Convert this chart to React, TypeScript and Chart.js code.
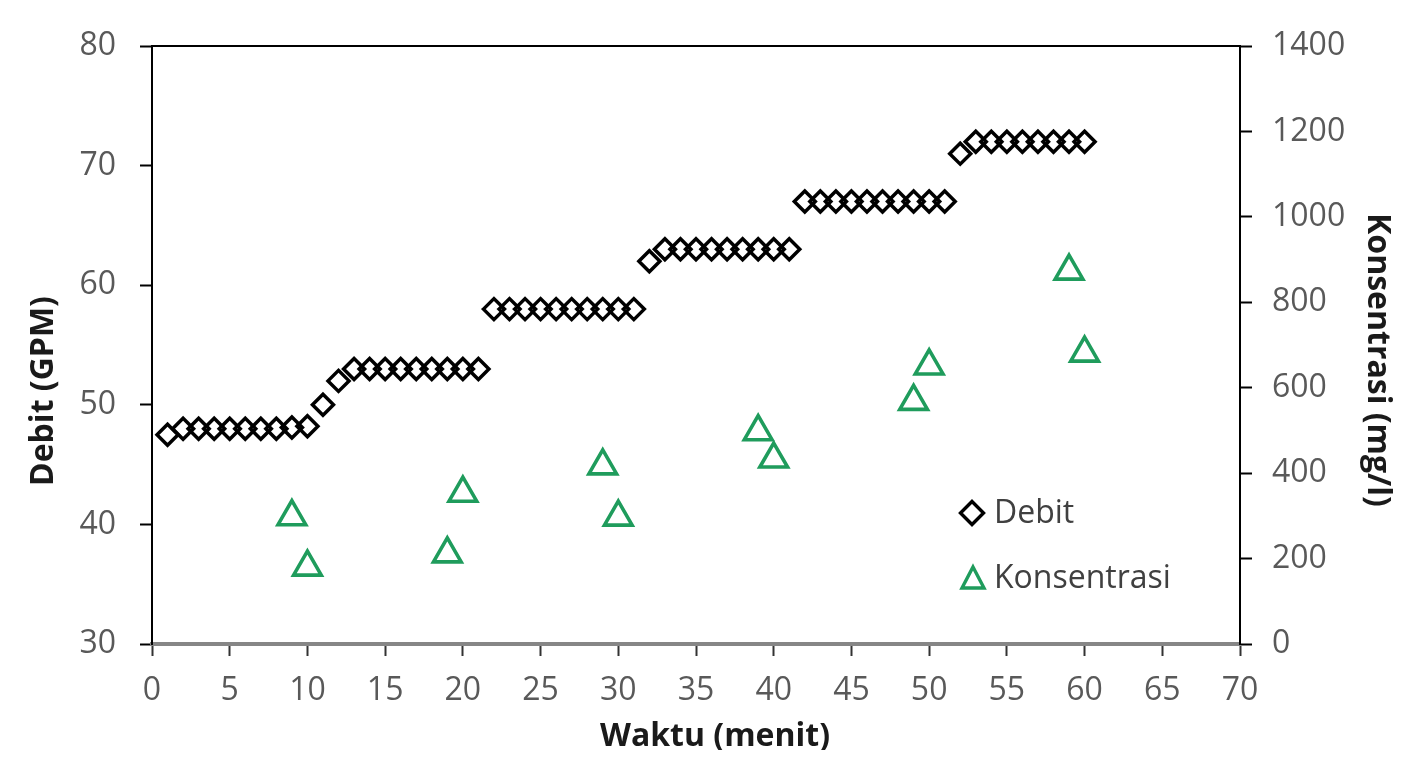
import React, { useEffect, useRef } from 'react';
import { Chart, registerables } from 'chart.js';

Chart.register(...registerables);

// ---- data ----
const minutes = [
  1, 2, 3, 4, 5, 6, 7, 8, 9, 10,
  11, 12, 13, 14, 15, 16, 17, 18, 19, 20,
  21, 22, 23, 24, 25, 26, 27, 28, 29, 30,
  31, 32, 33, 34, 35, 36, 37, 38, 39, 40,
  41, 42, 43, 44, 45, 46, 47, 48, 49, 50,
  51, 52, 53, 54, 55, 56, 57, 58, 59, 60,
];
const debit = [
  47.5, 48, 48, 48, 48, 48, 48, 48, 48.1, 48.2,
  50, 52, 53, 53, 53, 53, 53, 53, 53, 53,
  53, 58, 58, 58, 58, 58, 58, 58, 58, 58,
  58, 62, 63, 63, 63, 63, 63, 63, 63, 63,
  63, 67, 67, 67, 67, 67, 67, 67, 67, 67,
  67, 71, 72, 72, 72, 72, 72, 72, 72, 72,
];
const konsMinutes = [9, 10, 19, 20, 29, 30, 39, 40, 49, 50, 59, 60];
const konsentrasi = [298, 180, 211, 353, 417, 297, 497, 433, 568, 651, 873, 681];

const xAxis = { min: 0, max: 70, step: 5 };
const yLeftAxis = { min: 30, max: 80, step: 10 };
const yRightAxis = { min: 0, max: 1400, step: 200 };

const seriesNames = ['Debit', 'Konsentrasi'];
const axisTitles = { x: 'Waktu (menit)', y: 'Debit (GPM)', y1: 'Konsentrasi (mg/l)' };

const FONT = "'Open Sans', sans-serif";
const GREEN = '#1f9c5c';
const TICK_COLOR = '#595959';
const TITLE_COLOR = '#1a1a1a';

const overlayPlugin = {
  id: 'overlay',
  afterDraw(chart: any) {
    const { ctx, chartArea } = chart;
    ctx.save();
    // top frame line
    ctx.strokeStyle = '#000';
    ctx.lineWidth = 2;
    ctx.beginPath();
    ctx.moveTo(chartArea.left, chartArea.top);
    ctx.lineTo(chartArea.right, chartArea.top);
    ctx.stroke();

    // axis titles
    ctx.fillStyle = TITLE_COLOR;
    ctx.font = `bold 32px ${FONT}`;
    ctx.textAlign = 'center';
    ctx.textBaseline = 'middle';
    ctx.fillText(axisTitles.x, 707, 729);

    ctx.save();
    ctx.translate(36, 383);
    ctx.rotate(-Math.PI / 2);
    ctx.fillText(axisTitles.y, 0, 0);
    ctx.restore();

    ctx.save();
    ctx.translate(1369, 352);
    ctx.rotate(Math.PI / 2);
    ctx.fillText(axisTitles.y1, 0, 0);
    ctx.restore();

    // legend
    const lx = 964;
    const ly1 = 505;
    const ly2 = 570;
    ctx.lineWidth = 3.4;
    ctx.strokeStyle = '#000';
    ctx.beginPath();
    const d = 11.5;
    ctx.moveTo(lx, ly1 - d);
    ctx.lineTo(lx + d, ly1);
    ctx.lineTo(lx, ly1 + d);
    ctx.lineTo(lx - d, ly1);
    ctx.closePath();
    ctx.stroke();

    ctx.strokeStyle = GREEN;
    ctx.beginPath();
    const tw = 11;
    const th = 20;
    ctx.moveTo(lx + 1, ly2 - th / 2 - 1);
    ctx.lineTo(lx + 1 + tw, ly2 + th / 2);
    ctx.lineTo(lx + 1 - tw, ly2 + th / 2);
    ctx.closePath();
    ctx.stroke();

    ctx.fillStyle = '#404040';
    ctx.font = `32px ${FONT}`;
    ctx.textBaseline = 'middle';
    ctx.textAlign = 'left';
    ctx.fillText(seriesNames[0], 986, ly1 + 1);
    ctx.fillText(seriesNames[1], 986, ly2 + 1);
    ctx.restore();
  },
};

export default function App() {
  const ref = useRef<HTMLCanvasElement | null>(null);

  useEffect(() => {
    if (!ref.current) return;
    const chart = new Chart(ref.current, {
      type: 'scatter',
      data: {
        datasets: [
          {
            label: seriesNames[0],
            data: minutes.map((m, i) => ({ x: m, y: debit[i] })),
            yAxisID: 'y',
            pointStyle: 'rectRot',
            pointRadius: 10.5,
            pointBorderWidth: 3.5,
            borderColor: '#000',
            backgroundColor: 'rgba(0,0,0,0)',
          },
          {
            label: seriesNames[1],
            data: konsMinutes.map((m, i) => ({ x: m, y: konsentrasi[i] })),
            yAxisID: 'y1',
            pointStyle: 'triangle',
            pointRadius: 16,
            pointBorderWidth: 3.6,
            borderColor: GREEN,
            backgroundColor: 'rgba(0,0,0,0)',
          },
        ],
      },
      options: {
        responsive: false,
        animation: false,
        devicePixelRatio: 1,
        layout: { padding: { top: 38, left: 0, right: 0, bottom: 0 } },
        plugins: {
          legend: { display: false },
          tooltip: { enabled: false },
        },
        scales: {
          x: {
            type: 'linear',
            min: xAxis.min,
            max: xAxis.max,
            ticks: {
              stepSize: xAxis.step,
              color: TICK_COLOR,
              font: { family: FONT, size: 32 },
              padding: 16,
              maxRotation: 0,
              autoSkip: false,
            },
            grid: {
              drawOnChartArea: false,
              drawTicks: true,
              tickLength: 12,
              tickColor: '#333',
              tickWidth: 2,
            },
            border: { color: '#868686', width: 4 },
            title: { display: false },
            afterFit: (s: any) => {
              s.height = 106;
              s.paddingLeft = 0;
              s.paddingRight = 0;
            },
          },
          y: {
            type: 'linear',
            position: 'left',
            min: yLeftAxis.min,
            max: yLeftAxis.max,
            ticks: {
              stepSize: yLeftAxis.step,
              color: TICK_COLOR,
              font: { family: FONT, size: 32 },
              padding: 24,
              callback: (v: any) => String(v),
            },
            grid: {
              drawOnChartArea: false,
              tickLength: 12,
              tickColor: '#000',
              tickWidth: 2,
            },
            border: { color: '#000', width: 2 },
            title: { display: false },
            afterFit: (s: any) => {
              s.width = 144;
              s.paddingTop = 0;
              s.paddingBottom = 0;
            },
          },
          y1: {
            type: 'linear',
            position: 'right',
            min: yRightAxis.min,
            max: yRightAxis.max,
            ticks: {
              stepSize: yRightAxis.step,
              color: TICK_COLOR,
              font: { family: FONT, size: 32 },
              padding: 20,
              callback: (v: any) => String(v),
            },
            grid: {
              drawOnChartArea: false,
              tickLength: 12,
              tickColor: '#000',
              tickWidth: 2,
            },
            border: { color: '#000', width: 2 },
            title: { display: false },
            afterFit: (s: any) => {
              s.width = 168;
              s.paddingTop = 0;
              s.paddingBottom = 0;
            },
          },
        },
      } as any,
      plugins: [overlayPlugin],
    });
    return () => chart.destroy();
  }, []);

  return (
    <div style={{ width: 1400, height: 742, background: '#fff' }}>
      <canvas ref={ref} width={1400} height={742} style={{ display: 'block' }} />
    </div>
  );
}
